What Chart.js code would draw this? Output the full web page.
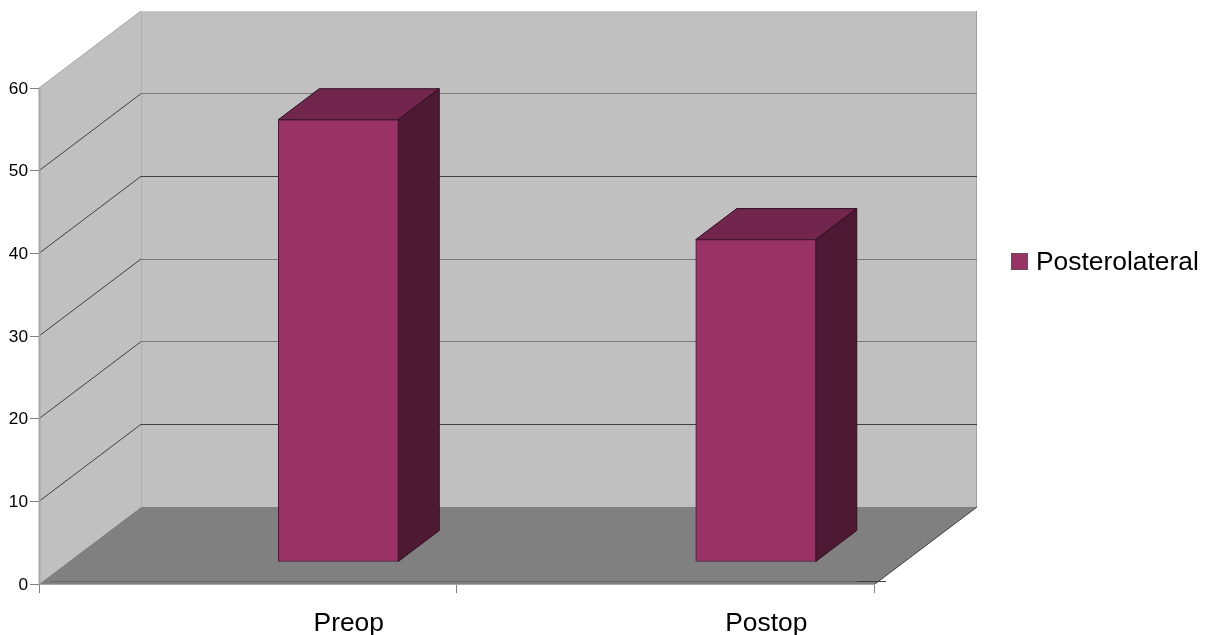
<!DOCTYPE html>
<html>
<head>
<meta charset="utf-8">
<title>Posterolateral</title>
<style>html,body{margin:0;padding:0;background:#fff}canvas{display:block}</style>
<script src="https://cdn.jsdelivr.net/npm/chart.js@4/dist/chart.umd.js"></script>
</head>
<body>
<canvas id="c" width="1208" height="635"></canvas>
<script>
const categories = ['Preop', 'Postop'];
const posterolateral = [53.5, 39];
const seriesName = 'Posterolateral';

// Box projection: how far the back wall and the bars sit from the front plane.
const wallDX = 102, wallDY = -77;
const barShiftX = 90.5, barShiftY = -22;
const barDX = 41, barDY = -31;
const FONT = '"Liberation Sans", Arial, sans-serif';

function poly(ctx, pts, fill, stroke, lw) {
  ctx.beginPath();
  pts.forEach((p, i) => i ? ctx.lineTo(p[0], p[1]) : ctx.moveTo(p[0], p[1]));
  ctx.closePath();
  if (fill) { ctx.fillStyle = fill; ctx.fill(); }
  if (stroke) { ctx.strokeStyle = stroke; ctx.lineWidth = lw || 1; ctx.stroke(); }
}
function seg(ctx, x0, y0, x1, y1, color, lw) {
  ctx.beginPath();
  ctx.moveTo(x0, y0);
  ctx.lineTo(x1, y1);
  ctx.strokeStyle = color;
  ctx.lineWidth = lw || 1;
  ctx.stroke();
}

// Walls, floor and value lines of the 3D box, positioned from the chart scales.
const boxPlugin = {
  id: 'box3d',
  beforeDraw(chart) {
    const ctx = chart.ctx, y = chart.scales.y, a = chart.chartArea;
    const L = a.left, R = a.right, T = y.getPixelForValue(60), B = y.getPixelForValue(0);
    const bx = wallDX, by = wallDY;
    ctx.save();
    poly(ctx, [[L+bx, T+by], [R+bx+1, T+by], [R+bx+1, B+by], [L+bx, B+by]], '#c0c0c0');
    poly(ctx, [[L, T], [L+bx, T+by], [L+bx, B+by], [L, B]], '#c0c0c0');
    poly(ctx, [[L, B], [L+bx, B+by], [R+bx+1, B+by], [R+1, B]], '#808080');

    seg(ctx, L+bx+0.5, T+by, L+bx+0.5, B+by, '#b0b0b0');
    seg(ctx, L+bx, T+by+0.5, R+bx+1, T+by+0.5, '#cccccc');
    seg(ctx, L, T, L+bx, T+by, '#a6a6a6');
    seg(ctx, R+bx+0.5, T+by, R+bx+0.5, B+by, '#a0a0a0');

    y.ticks.forEach(t => {
      if (t.value === 0 || t.value === 60) return;
      const py = y.getPixelForValue(t.value);
      seg(ctx, L, py, L+bx, py+by, '#404040');
      const dark = t.value === 40 || t.value === 10;
      const ry = Math.floor(py+by) + 0.5;
      seg(ctx, L+bx, ry, R+bx+1, ry, dark ? '#404040' : '#7a7a7a');
    });

    seg(ctx, L+0.5, T, L+0.5, B, '#a6a6a6', 2);
    seg(ctx, L+11, B-2.5, R+1, B-2.5, '#666666');
    seg(ctx, R-17, B-2.5, R+12, B-2.5, '#404040');
    seg(ctx, R+1, B, R+bx+1, B+by, '#404040');
    ctx.restore();
  },
  beforeDatasetsDraw(chart) {
    const ctx = chart.ctx;
    ctx.save();
    ctx.translate(barShiftX, barShiftY);
    chart.getDatasetMeta(0).data.forEach(bar => {
      const p = bar.getProps(['x', 'y', 'base', 'width'], true);
      const l = p.x - p.width / 2, r = p.x + p.width / 2;
      const edge = '#2e0f20';
      poly(ctx, [[l, p.y], [l+barDX, p.y+barDY], [r+barDX, p.y+barDY], [r, p.y]], '#73264d', edge);
      poly(ctx, [[r, p.y], [r+barDX, p.y+barDY], [r+barDX, p.base+barDY], [r, p.base]], '#4d1933', edge);
    });
  },
  afterDatasetsDraw(chart) {
    chart.ctx.restore();
  },
  // Legend entry to the right of the box.
  afterDraw(chart) {
    const ctx = chart.ctx, ds = chart.data.datasets[0];
    ctx.save();
    ctx.fillStyle = ds.backgroundColor;
    ctx.strokeStyle = '#6e4a5c';
    ctx.lineWidth = 1;
    ctx.fillRect(1011.5, 253.5, 16, 16);
    ctx.strokeRect(1011.5, 253.5, 16, 16);
    ctx.fillStyle = '#000';
    ctx.font = '26.4px ' + FONT;
    ctx.textBaseline = 'middle';
    ctx.textAlign = 'left';
    ctx.fillText(ds.label, 1036, 262.5);
    ctx.restore();
  }
};

new Chart(document.getElementById('c'), {
  type: 'bar',
  data: {
    labels: categories,
    datasets: [{
      label: seriesName,
      data: posterolateral,
      backgroundColor: '#993366',
      borderColor: '#4a1a33',
      borderWidth: 1,
      borderSkipped: false,
      barThickness: 120,
      clip: false
    }]
  },
  plugins: [boxPlugin],
  options: {
    responsive: false,
    animation: false,
    layout: { padding: { top: 88, right: 334, left: 0, bottom: 0 } },
    plugins: { legend: { display: false }, tooltip: { enabled: false } },
    scales: {
      x: {
        afterFit(s) { s.height = 51; },
        border: { color: '#a6a6a6' },
        grid: { drawOnChartArea: false, tickLength: 9, color: '#808080', offset: true },
        ticks: {
          color: '#000', padding: 15, labelOffset: 101, maxRotation: 0,
          font: { family: FONT, size: 26.4 }
        }
      },
      y: {
        min: 0, max: 60,
        afterFit(s) { s.width = 39; },
        border: { color: '#a6a6a6' },
        grid: { drawOnChartArea: false, tickLength: 9, color: '#808080' },
        ticks: {
          color: '#000', padding: 2, stepSize: 10, labelOffset: 1,
          font: { family: FONT, size: 17.3 }
        }
      }
    }
  }
});
</script>
</body>
</html>
